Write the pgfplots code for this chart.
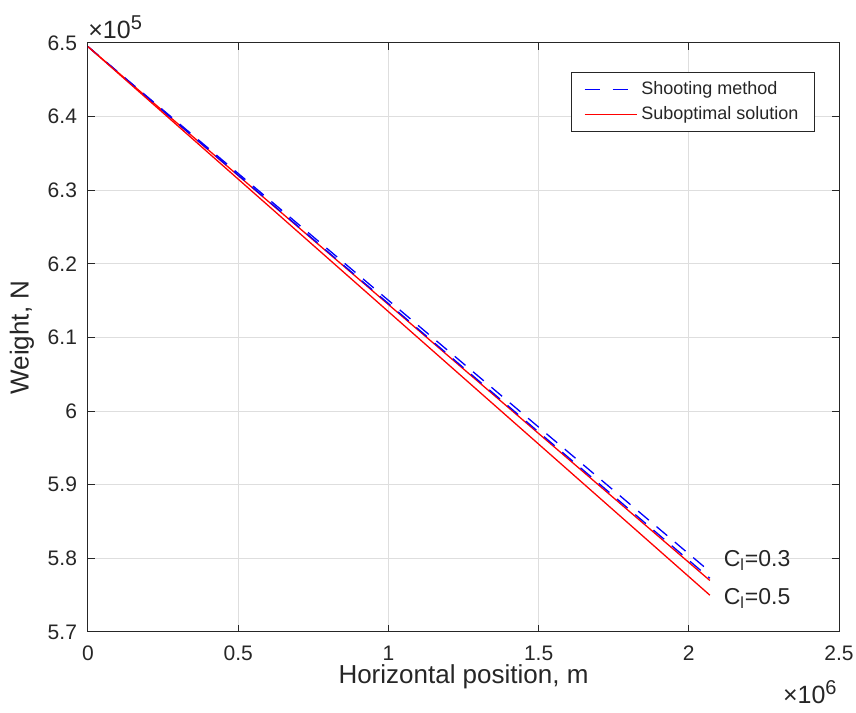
\documentclass[border=0pt]{standalone}
\usepackage{fontspec}
\setmainfont{Liberation Sans}
\usepackage{pgfplots}
\pgfplotsset{compat=1.18}
\definecolor{axgray}{rgb}{0.15,0.15,0.15}
\definecolor{gridgray}{rgb}{0.87,0.87,0.87}
\definecolor{mblue}{rgb}{0,0,1}
\definecolor{mred}{rgb}{1,0,0}
\begin{document}
\begin{tikzpicture}
\begin{axis}[
  scale only axis,
  width=375.5pt, height=294.5pt,
  xmin=0, xmax=2500000, ymin=570000, ymax=650000,
  scaled x ticks=false, scaled y ticks=false,
  xtick={0,500000,1000000,1500000,2000000,2500000},
  xticklabels={0,0.5,1,1.5,2,2.5},
  ytick={570000,580000,590000,600000,610000,620000,630000,640000,650000},
  yticklabels={5.7,5.8,5.9,6,6.1,6.2,6.3,6.4,6.5},
  grid=major,
  major grid style={gridgray, line width=0.5pt},
  tick align=inside,
  major tick length=3.5pt,
  every tick/.style={axgray, line width=0.5pt},
  axis line style={axgray, line width=0.5pt},
  tick label style={font=\fontsize{10.5}{12}\selectfont, text=axgray},
  xticklabel style={yshift=-3.5pt},
  yticklabel style={xshift=-2pt},
  every axis x label/.style={at={(rel axis cs:0.5,0)}, yshift=-26pt, anchor=base,
    font=\fontsize{13}{14}\selectfont, text=axgray},
  every axis y label/.style={at={(rel axis cs:0,0.5)}, xshift=-33pt, rotate=90, anchor=center,
    font=\fontsize{13}{14}\selectfont, text=axgray},
  xlabel={Horizontal position, m},
  ylabel={Weight, N},
  legend style={at={(rel axis cs:1,1)}, anchor=north east, xshift=-12pt, yshift=-14.5pt,
    font=\fontsize{9}{10.5}\selectfont, draw=axgray, line width=0.5pt,
    inner xsep=6pt, inner ysep=2.5pt, row sep=0.5pt},
  legend cell align=left,
  clip mode=individual,
]
\addlegendimage{legend image code/.code={\draw[draw=mblue, line width=0.75pt, dash pattern=on 7.5pt off 6.5pt] (10pt,0pt) -- (36pt,0pt);}}
\addlegendentry{\textcolor{axgray}{Shooting method}}
\addlegendimage{legend image code/.code={\draw[draw=mred, line width=0.65pt] (10pt,0pt) -- (36pt,0pt);}}
\addlegendentry{\textcolor{axgray}{Suboptimal solution}}
\addplot[color=mblue, line width=0.65pt, dash pattern=on 7pt off 5pt, forget plot] coordinates {
  (0,649500) (500000,632280) (1000000,615050) (1500000,597830) (2070000,578200)};
\addplot[color=mred, line width=0.65pt, forget plot] coordinates {
  (0,649500) (500000,631990) (1000000,614480) (1500000,596960) (2070000,577000)};
\addplot[color=mblue, line width=0.65pt, dash pattern=on 7pt off 5pt, forget plot] coordinates {
  (0,649500) (500000,632050) (1000000,614610) (1500000,597160) (2070000,577300)};
\addplot[color=mred, line width=0.65pt, forget plot] coordinates {
  (0,649500) (500000,631510) (1000000,613510) (1500000,595520) (2070000,575000)};
\node[anchor=base west, font=\fontsize{11.5}{12}\selectfont, text=axgray, inner sep=0pt]
  at (axis cs:2115000,578830) {C\textsubscript{l}=0.3};
\node[anchor=base west, font=\fontsize{11.5}{12}\selectfont, text=axgray, inner sep=0pt]
  at (axis cs:2115000,573670) {C\textsubscript{l}=0.5};
\node[anchor=base west, font=\fontsize{12.5}{13}\selectfont, text=axgray, inner sep=0pt]
  at (rel axis cs:0,1) [yshift=2pt] {×10\raisebox{0.75ex}{\fontsize{10}{10}\selectfont 5}};
\node[anchor=base east, font=\fontsize{12.5}{13}\selectfont, text=axgray, inner sep=0pt]
  at (rel axis cs:1,0) [yshift=-36pt, xshift=-1pt] {×10\raisebox{0.75ex}{\fontsize{10}{10}\selectfont 6}};
\coordinate (bl) at (rel axis cs:0,0);
\coordinate (tr) at (rel axis cs:1,1);
\end{axis}
\pgfresetboundingbox
\path ([shift={(-44pt,-40.5pt)}]bl) rectangle ([shift={(8.5pt,21.5pt)}]tr);
\end{tikzpicture}
\end{document}
